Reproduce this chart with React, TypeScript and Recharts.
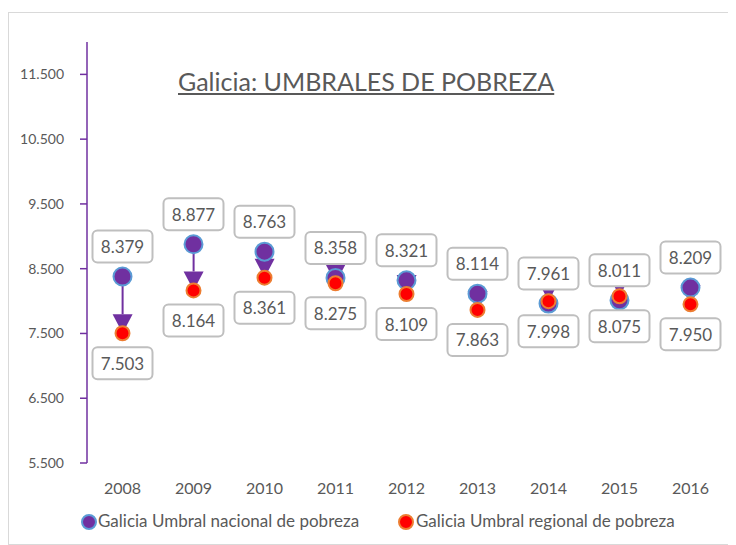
import React from 'react';
import { ComposedChart, Bar, Line, XAxis, YAxis, LabelList } from 'recharts';

const years = ['2008', '2009', '2010', '2011', '2012', '2013', '2014', '2015', '2016'];
const nacional = [8379, 8877, 8763, 8358, 8321, 8114, 7961, 8011, 8209];
const regional = [7503, 8164, 8361, 8275, 8109, 7863, 7998, 8075, 7950];
const yTicks = [5500, 6500, 7500, 8500, 9500, 10500, 11500];

const PURPLE = '#7030A0';
const BLUE = '#5B9BD5';
const RED = '#FF0000';
const ORANGE = '#ED7D31';
const GREY = '#595959';
const FONT = 'Lato, "Open Sans", sans-serif';

const fmt = (v: number) => v.toLocaleString('de-DE');

const data = years.map((year, i) => ({
    year,
    nat: nacional[i],
    reg: regional[i],
    range: [Math.min(nacional[i], regional[i]), Math.max(nacional[i], regional[i])],
}));

// arrow from national to regional, arrowhead always drawn pointing down onto the regional point
const Arrow = (props: any) => {
    const { x, y, width, height, payload } = props;
    const cx = x + width / 2;
    const top = Math.min(y, y + height);
    const bottom = Math.max(y, y + height);
    const natY = payload.nat >= payload.reg ? top : bottom;
    const regY = payload.nat >= payload.reg ? bottom : top;
    const head = 19;
    return (
        <g>
            {natY < regY - head && <line x1={cx} y1={natY} x2={cx} y2={regY - head} stroke={PURPLE} strokeWidth={2} />}
            <polygon points={`${cx - 10},${regY - head} ${cx + 10},${regY - head} ${cx},${regY}`} fill={PURPLE} />
        </g>
    );
};

const makeBox = (dir: number) => (props: any) => {
    const { x, y, value } = props;
    const cy = y + dir * 30;
    return (
        <g>
            <rect x={x - 30} y={cy - 16} width={60} height={32} rx={5} fill="#fff" stroke="#BFBFBF" strokeWidth={2} />
            <text x={x} y={cy} textAnchor="middle" dominantBaseline="central" fill={GREY} fontSize={17} fontFamily={FONT}>
                {fmt(value)}
            </text>
        </g>
    );
};

export default function App() {
    return (
        <div style={{ position: 'relative', marginTop: 4, width: 727, height: 531, border: '1px solid #D9D9D9', background: '#fff' }}>
            <div
                style={{
                    position: 'absolute', left: 169, top: 53, fontFamily: FONT, fontSize: 25,
                    color: GREY, textDecoration: 'underline', whiteSpace: 'nowrap',
                }}
            >
                Galicia: UMBRALES DE POBREZA
            </div>
            <ComposedChart width={726} height={530} data={data} margin={{ top: 29, right: 9, left: 0, bottom: 50 }}>
                <XAxis
                    dataKey="year"
                    axisLine={false}
                    tickLine={false}
                    tick={{ fill: GREY, fontSize: 16, fontFamily: FONT }}
                    tickMargin={14}
                    height={30}
                />
                <YAxis
                    domain={[5500, 12000]}
                    ticks={yTicks}
                    allowDataOverflow
                    width={78}
                    axisLine={{ stroke: PURPLE, strokeWidth: 1.5 }}
                    tickLine={{ stroke: PURPLE, strokeWidth: 1.5 }}
                    tickSize={7}
                    tickMargin={16}
                    tickFormatter={fmt}
                    tick={{ fill: GREY, fontSize: 14, fontFamily: FONT }}
                />
                <Bar dataKey="range" shape={<Arrow />} isAnimationActive={false} />
                <Line
                    dataKey="nat"
                    stroke="none"
                    dot={{ r: 9, fill: PURPLE, stroke: BLUE, strokeWidth: 2 }}
                    activeDot={false}
                    isAnimationActive={false}
                >
                    <LabelList dataKey="nat" content={makeBox(-1)} />
                </Line>
                <Line
                    dataKey="reg"
                    stroke="none"
                    dot={{ r: 7, fill: RED, stroke: ORANGE, strokeWidth: 2 }}
                    activeDot={false}
                    isAnimationActive={false}
                >
                    <LabelList dataKey="reg" content={makeBox(1)} />
                </Line>
            </ComposedChart>
            <div style={{ position: 'absolute', top: 497, left: 0, fontFamily: FONT, fontSize: 17, color: GREY }}>
                <span style={{ position: 'absolute', left: 72, top: 4, width: 12, height: 12, borderRadius: '50%', background: PURPLE, border: `2px solid ${BLUE}` }} />
                <span style={{ position: 'absolute', left: 89, top: 0, whiteSpace: 'nowrap' }}>Galicia Umbral nacional de pobreza</span>
                <span style={{ position: 'absolute', left: 389, top: 4, width: 12, height: 12, borderRadius: '50%', background: RED, border: `2px solid ${ORANGE}` }} />
                <span style={{ position: 'absolute', left: 407, top: 0, whiteSpace: 'nowrap' }}>Galicia Umbral regional de pobreza</span>
            </div>
        </div>
    );
}
